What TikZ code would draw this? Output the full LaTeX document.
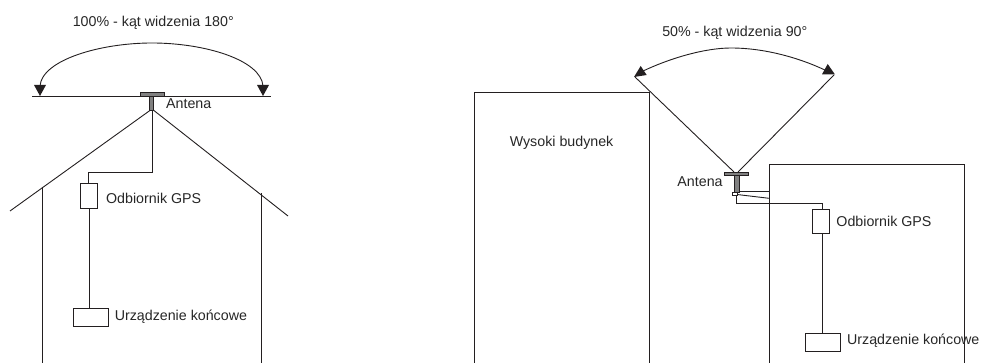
\documentclass[tikz,border=0pt]{standalone}
\usepackage{fontspec}
\setmainfont{Liberation Sans}
\begin{document}
\begin{tikzpicture}[x=1pt,y=-1pt,line width=0.9pt,color={rgb,255:red,35;green,31;blue,32},
 lab/.style={inner sep=0pt,font=\fontsize{14.25}{17}\selectfont,text=black!85},
 box/.style={draw,fill=white,inner sep=0pt,minimum width=#1},
 ant/.style={draw,fill=black!50,line width=0.7pt,inner sep=0pt},
 tip/.style={fill,draw=none}]
\useasboundingbox (0,0) rectangle (997,363);
% left
\coordinate (hl) at (32,96); \coordinate (hr) at (271,96);
\draw (hl) -- (hr);
\coordinate (a1) at (40,86); \coordinate (a2) at (263,86);
\draw (a1) .. controls (42,60) and (100,43) .. (152,43) .. controls (205,43) and (261,60) .. (a2);
\fill[tip] (40,96) -- (34,85) -- (46,85) -- cycle;
\fill[tip] (263,96) -- (257,85) -- (269,85) -- cycle;
\coordinate (apex) at (152,109);
\coordinate (rl) at (10,211); \coordinate (rr) at (288,216);
\draw (rl) -- (apex) -- (rr);
\draw (42,187) -- (42,363);
\draw (261,193) -- (261,363);
\node[box=17.5pt,minimum height=25pt,anchor=north west] (gps1) at (79.7,183) {};
\node[box=35pt,minimum height=17.6pt,anchor=north west] (dev1) at (72.7,308) {};
\coordinate (c1) at (152,172.7);
\coordinate (c1b) at (gps1.north |- c1);
\draw (apex) -- (c1) -- (c1b) -- (gps1.north);
\draw ([xshift=0.8pt]gps1.south) -- ([xshift=0.8pt]gps1.south |- dev1.north);
\path[ant] (140,92) rectangle (164,96);
\path[ant] (149.5,96) rectangle (153.5,110);
\node[lab,anchor=west] (ta1) at (165.7,104) {Antena};
\node[lab,anchor=west] (tg1) at (105.7,198) {Odbiornik GPS};
\node[lab,anchor=west] (tu1) at (114.3,316.5) {Urządzenie końcowe};
\node[lab] (tt1) at (153.3,22.5) {100\% - kąt widzenia 180°};
% right
\draw (474,363) -- (474,92) -- (649.5,92) -- (649.5,363);
\draw (769,363) -- (769,164) -- (964,164) -- (964,363);
\coordinate (p1) at (635,77); \coordinate (p2) at (834,75);
\draw (p1) -- (734,172);
\draw (p2) -- (738,172);
\draw (641,72) .. controls (670,58) and (705,48) .. (731,48) .. controls (765,48) and (800,58) .. (827,71);
\fill[tip] (634,77) -- (640.7,66) -- (646.7,75) -- cycle;
\fill[tip] (835,74.5) -- (827.7,64) -- (822,74.3) -- cycle;
\node[box=17.5pt,minimum height=24.5pt,anchor=north west] (gps2) at (811.8,209) {};
\node[box=35pt,minimum height=17.8pt,anchor=north west] (dev2) at (804.6,333) {};
\coordinate (c2a) at (736,203.3);
\coordinate (c2b) at ([xshift=1pt]gps2.north |- c2a);
\draw (736,195) -- (c2a) -- (c2b) -- ([xshift=1pt]gps2.north);
\draw ([xshift=1pt]gps2.south) -- ([xshift=1pt]gps2.south |- dev2.north);
\draw (737,191.8) -- (769,191.8);
\draw (737,194.5) -- (769,198.3);
\path[ant] (724.5,172.3) rectangle (748.8,175.7);
\path[ant] (734.8,175.7) rectangle (739,192);
\node[draw,fill=white,line width=0.6pt,inner sep=0pt,minimum width=5pt,minimum height=3pt,anchor=north west] (sm) at (731.5,192) {};
\node[lab,anchor=west] (ta2) at (677,182) {Antena};
\node[lab,anchor=west] (tg2) at (836,221) {Odbiornik GPS};
\node[lab,anchor=west] (tu2) at (846.7,341) {Urządzenie końcowe};
\node[lab] (tt2) at (734.8,33) {50\% - kąt widzenia 90°};
\node[lab,anchor=west] (tw) at (509.3,142.5) {Wysoki budynek};
\end{tikzpicture}
\end{document}
